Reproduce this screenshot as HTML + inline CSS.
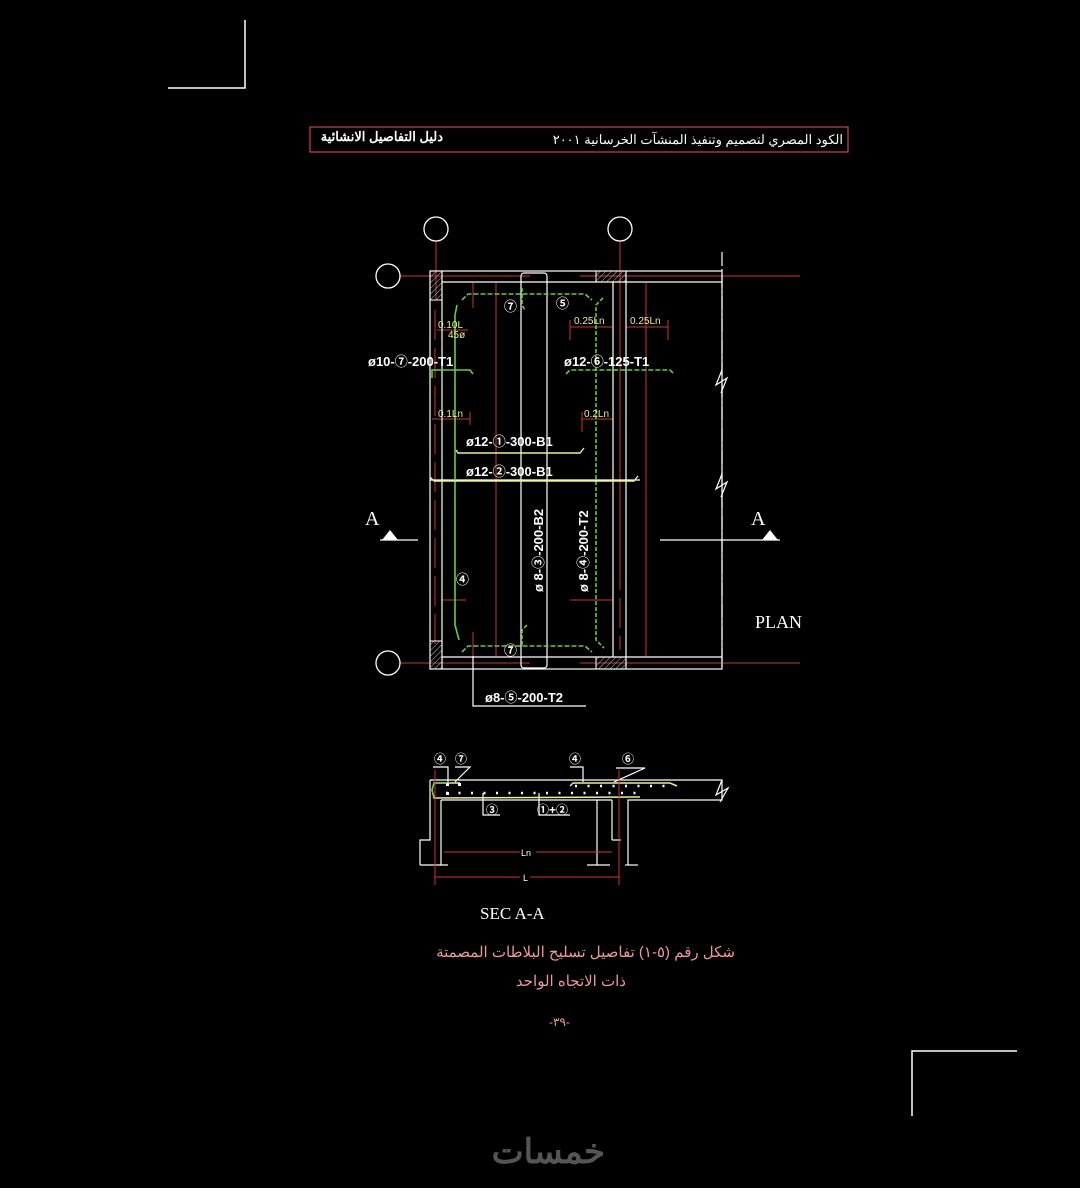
<!DOCTYPE html>
<html><head><meta charset="utf-8"><style>
html,body{margin:0;padding:0;background:#000;width:1080px;height:1188px;overflow:hidden}
svg{display:block}
text{font-family:"Liberation Sans","Noto Sans CJK SC",sans-serif}
.s{font-family:"Liberation Serif",serif}
</style></head><body>
<svg width="1080" height="1188" viewBox="0 0 1080 1188" xmlns="http://www.w3.org/2000/svg">
<defs>
<pattern id="h" width="4" height="4" patternUnits="userSpaceOnUse" patternTransform="rotate(45)"><line x1="0" y1="0" x2="0" y2="4" stroke="#bbb" stroke-width="1"/></pattern>
</defs>
<polyline points="245,20 245,88 168,88" fill="none" stroke="#fff" stroke-width="1.5"/>
<polyline points="1017,1051 912,1051 912,1116" fill="none" stroke="#fff" stroke-width="1.5"/>
<rect x="310" y="127" width="538" height="25" fill="none" stroke="#c44" stroke-width="1.2"/>
<text x="843" y="144" fill="#fff" font-size="13" text-anchor="end" font-family="'DejaVu Sans',sans-serif">الكود المصري لتصميم وتنفيذ المنشآت الخرسانية ٢٠٠١</text>
<text x="443" y="141" fill="#fff" font-size="13" text-anchor="end" font-weight="bold" font-family="'DejaVu Sans',sans-serif">دليل التفاصيل الانشائية</text>

<g stroke="#c33" stroke-width="1">
<line x1="436" y1="241" x2="436" y2="300"/>
<line x1="620" y1="241" x2="620" y2="560"/>
<line x1="400" y1="276" x2="530" y2="276"/>
<line x1="580" y1="276" x2="800" y2="276"/>
<line x1="400" y1="663" x2="530" y2="663"/>
<line x1="580" y1="663" x2="800" y2="663"/>
<line x1="496" y1="283" x2="496" y2="656"/>
<line x1="646" y1="283" x2="646" y2="656"/>
<line x1="473" y1="283" x2="473" y2="308"/>
<line x1="473" y1="632" x2="473" y2="656"/>
<line x1="570" y1="327" x2="612" y2="327"/><line x1="570" y1="320" x2="570" y2="340"/>
<line x1="626" y1="327" x2="668" y2="327"/><line x1="668" y1="320" x2="668" y2="340"/>
<line x1="432" y1="419" x2="470" y2="419"/><line x1="470" y1="412" x2="470" y2="425"/>
<line x1="582" y1="419" x2="613" y2="419"/><line x1="582" y1="412" x2="582" y2="432"/>
<line x1="437" y1="330" x2="468" y2="330"/>
<line x1="442" y1="600" x2="466" y2="600"/>
<line x1="570" y1="600" x2="613" y2="600"/>
<line x1="435" y1="310" x2="435" y2="650" stroke-dasharray="30,8"/>
<line x1="620" y1="560" x2="620" y2="650" stroke-dasharray="30,8"/>
</g>
<g fill="none" stroke="#fff" stroke-width="1.3">
<circle cx="436" cy="229" r="12"/><circle cx="620" cy="229" r="12"/>
<circle cx="388" cy="276" r="12"/><circle cx="388" cy="663" r="12"/>
</g>
<g fill="none" stroke="#fff" stroke-width="1.2">
<rect x="430" y="271" width="292" height="398"/>
<line x1="442" y1="282" x2="722" y2="282"/>
<line x1="442" y1="657" x2="722" y2="657"/>
<line x1="442" y1="271" x2="442" y2="669"/>
<line x1="613" y1="282" x2="613" y2="657"/>
<line x1="626" y1="271" x2="626" y2="669"/>
<rect x="521" y="273" width="26" height="395" rx="3"/>
<line x1="722" y1="252" x2="722" y2="669" stroke-dasharray="14,3,2,3"/>
<line x1="430" y1="480" x2="640" y2="480"/>
<line x1="660" y1="540" x2="780" y2="540"/>
<line x1="380" y1="540" x2="418" y2="540"/>
<polyline points="473,656 473,706 586,706"/>
</g>
<g fill="url(#h)" stroke="#fff" stroke-width="1">
<rect x="430" y="271" width="12" height="29"/>
<rect x="596" y="271" width="30" height="11"/>
<rect x="430" y="641" width="12" height="28"/>
<rect x="596" y="657" width="30" height="12"/>
</g>
<g fill="none" stroke="#6c4" stroke-width="1.6">
<polyline points="462,300 468,294 585,294 592,300" stroke-dasharray="5,2"/>
<polyline points="457,305 455,315 455,625 459,640"/>
<polyline points="462,652 468,646 585,646 592,652" stroke-dasharray="5,2"/>
<polyline points="603,298 596,305 596,640 604,648" stroke-dasharray="4,2"/>
<polyline points="522,288 522,305 525,310" stroke-dasharray="4,2"/>
<polyline points="522,645 522,630 527,625" stroke-dasharray="4,2"/>
<polyline points="432,378 432,370 470,370 473,374"/>
<polyline points="566,374 570,370 670,370 674,374" stroke-dasharray="5,2"/>
</g>
<g fill="none" stroke="#ee9" stroke-width="1.4">
<polyline points="456,450 458,453 580,453 584,448"/>
<polyline points="430,477 434,481 634,481 638,476"/>
</g>
<g fill="none" stroke="#fff" stroke-width="1.2">
<polyline points="722,370 716,385 727,378 721,393"/>
<polyline points="722,474 716,489 727,482 721,497"/>
<polyline points="722,780 716,795 728,788 720,802"/>
</g>
<g fill="#fff" font-size="13" font-weight="bold">
<text x="368" y="366">ø10-⑦-200-T1</text>
<text x="564" y="366">ø12-⑥-125-T1</text>
<text x="466" y="446">ø12-①-300-B1</text>
<text x="466" y="476">ø12-②-300-B1</text>
<text x="485" y="702">ø8-⑤-200-T2</text>
<text transform="translate(543,592) rotate(-90)">ø 8-③-200-B2</text>
<text transform="translate(588,592) rotate(-90)">ø 8-④-200-T2</text>
<text x="504" y="311">⑦</text><text x="556" y="308">⑤</text>
<text x="456" y="584">④</text><text x="504" y="655">⑦</text>
</g>
<g fill="#ee9" font-size="10">
<text x="438" y="328">0.10L</text><text x="448" y="338">45ø</text>
<text x="574" y="324">0.25Ln</text><text x="630" y="324">0.25Ln</text>
<text x="438" y="417">0.1Ln</text><text x="584" y="417">0.2Ln</text>
</g>
<polygon points="382,540 390,530 398,540" fill="#fff"/>
<polygon points="762,540 770,530 778,540" fill="#fff"/>
<text x="365" y="525" class="s" fill="#fff" font-size="20">A</text>
<text x="751" y="525" class="s" fill="#fff" font-size="20">A</text>
<text x="755" y="628" class="s" fill="#fff" font-size="18">PLAN</text>

<g fill="none" stroke="#fff" stroke-width="1.2">
<polyline points="430,780 722,780 722,800 628,800 628,865"/>
<polyline points="430,780 430,840 420,840 420,865"/>
<line x1="441" y1="800" x2="612" y2="800"/>
<line x1="441" y1="800" x2="441" y2="865"/>
<line x1="597" y1="800" x2="597" y2="865"/>
<line x1="612" y1="800" x2="612" y2="840"/><line x1="612" y1="840" x2="621" y2="840"/>
<line x1="420" y1="865" x2="448" y2="865"/><line x1="587" y1="865" x2="610" y2="865"/><line x1="625" y1="865" x2="638" y2="865"/>
<polyline points="433,767 448,767 448,782"/><polyline points="455,767 470,767 455,782"/>
<polyline points="570,767 583,767 583,782"/><polyline points="616,768 645,768 614,782"/>
<polyline points="483,793 483,815 500,815"/><polyline points="539,793 539,815 570,815"/>
</g>
<g fill="#fff" font-size="12" font-weight="bold">
<text x="434" y="763">④</text><text x="455" y="763">⑦</text>
<text x="569" y="763">④</text><text x="622" y="763">⑥</text>
<text x="486" y="814">③</text><text x="537" y="814">①+②</text>
</g>
<g fill="none" stroke-width="1.5">
<polyline points="460,783 434,783 432,790 434,798 640,797" stroke="#ee9"/>
<polyline points="450,783 434,783 432,790 434,797" stroke="#6c4"/>
<polyline points="570,786 573,783 670,783 677,786" stroke="#ee9"/>
</g>
<g fill="#fff">
<rect x="446" y="783" width="3" height="3"/><rect x="458" y="783" width="3" height="3"/>
<rect x="446" y="792" width="3" height="3"/>
</g>
<g stroke="#fff" stroke-width="2.5" stroke-dasharray="2,10.5">
<line x1="446" y1="793" x2="640" y2="793"/>
<line x1="575" y1="786" x2="672" y2="786"/>
</g>
<g stroke="#c33" stroke-width="1">
<line x1="435" y1="770" x2="435" y2="885"/><line x1="619" y1="770" x2="619" y2="885"/>
<line x1="444" y1="852" x2="520" y2="852"/><line x1="536" y1="852" x2="612" y2="852"/>
<line x1="435" y1="877" x2="520" y2="877"/><line x1="530" y1="877" x2="619" y2="877"/>
</g>
<text x="521" y="856" fill="#fff" font-size="9">Ln</text>
<text x="523" y="881" fill="#fff" font-size="9">L</text>
<text x="480" y="919" class="s" fill="#fff" font-size="17">SEC  A-A</text>
<text x="735" y="957" fill="#e99" font-size="15" text-anchor="end" font-family="'DejaVu Sans',sans-serif">شكل رقم (٥-١) تفاصيل تسليح البلاطات المصمتة</text>
<text x="626" y="986" fill="#e99" font-size="15" text-anchor="end" font-family="'DejaVu Sans',sans-serif">ذات الاتجاه الواحد</text>
<text x="549" y="1026" fill="#e99" font-size="12" font-family="'DejaVu Sans',sans-serif">-٣٩-</text>
<text x="605" y="1163" fill="#555" font-size="34" font-weight="bold" text-anchor="end" font-family="'DejaVu Sans',sans-serif">خمسات</text>
</svg>
</body></html>
